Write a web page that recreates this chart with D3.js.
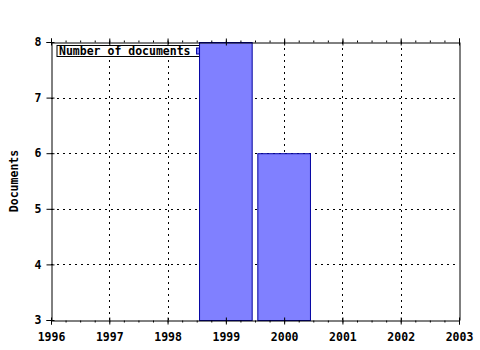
<!DOCTYPE html>
<html>
<head>
<meta charset="utf-8">
<script src="https://cdn.jsdelivr.net/npm/d3@7"></script>
<style>
  body { margin: 0; background: #fff; }
  text { font-family: "DejaVu Sans Mono", monospace; font-weight: bold; font-size: 11.5px; }
</style>
</head>
<body>
<div id="chart"></div>
<script>
const years = [1999, 2000];
const documents = [8, 6];
const xTicks = [1996, 1997, 1998, 1999, 2000, 2001, 2002, 2003];
const yTicks = [3, 4, 5, 6, 7, 8];
const seriesName = "Number of documents";

const svgWidth = 480, svgHeight = 350;
const margin = { top: 42, right: 21, bottom: 30, left: 51 },
  width = svgWidth - margin.left - margin.right,
  height = svgHeight - margin.top - margin.bottom;

const svg = d3.select("#chart").append("svg")
    .attr("width", svgWidth)
    .attr("height", svgHeight)
  .append("g")
    .attr("transform", "translate(" + margin.left + "," + margin.top + ")");

const x = d3.scaleLinear().domain([1996, 2003]).range([0, width]);
const y = d3.scaleLinear().domain([3, 8]).range([height, 0]);

// grid
svg.selectAll(".vgrid").data(xTicks.slice(1, -1)).enter().append("line")
    .attr("x1", d => Math.round(x(d)) + 0.5).attr("x2", d => Math.round(x(d)) + 0.5)
    .attr("y1", 0).attr("y2", height)
    .attr("stroke", "#000").attr("stroke-dasharray", "2,4");
svg.selectAll(".hgrid").data(yTicks.slice(1, -1)).enter().append("line")
    .attr("y1", d => Math.round(y(d)) + 0.5).attr("y2", d => Math.round(y(d)) + 0.5)
    .attr("x1", 0).attr("x2", width)
    .attr("stroke", "#000").attr("stroke-dasharray", "2,4");

// legend (drawn under the bars)
const legend = svg.append("g").attr("transform", "translate(6,3.5)");
const legText = legend.append("text").attr("x", 2).attr("y", 9).text(seriesName);
const tw = legText.node().getComputedTextLength();
legend.insert("rect", "text").attr("x", 0).attr("y", 0).attr("width", tw + 20).attr("height", 11)
    .attr("fill", "#fff").attr("stroke", "#000");
legend.append("rect").attr("x", tw + 8).attr("y", 2.5).attr("width", 8).attr("height", 6)
    .attr("fill", "#8080ff").attr("stroke", "#0000a0");

// bars
const barW = 0.92;
svg.selectAll(".bar").data(years).enter().append("rect")
    .attr("x", (d) => x(d - barW / 2) + 0.5)
    .attr("width", x(1996 + barW) - x(1996) - 1)
    .attr("y", (d, i) => y(documents[i]) + 0.5)
    .attr("height", (d, i) => height - y(documents[i]))
    .attr("fill", "#8080ff").attr("stroke", "#0000a0");

// frame axes
const minorX = d3.range(1996, 2003.001, 0.25);

svg.append("g").attr("transform", "translate(0," + (height + 0.5) + ")")
    .call(d3.axisBottom(x).tickValues(minorX).tickSize(2).tickFormat(""))
    .call(g => g.select(".domain").remove());
svg.append("g").attr("transform", "translate(0," + (height + 0.5) + ")")
    .call(d3.axisBottom(x).tickValues(xTicks).tickSize(4).tickPadding(8).tickFormat(d3.format("d")))
    .call(g => g.selectAll(".tick line").attr("y1", -3))
    .call(g => g.selectAll("text").attr("fill", "#000"));

svg.append("g").attr("transform", "translate(0,0.5)")
    .call(d3.axisTop(x).tickValues(minorX).tickSize(2).tickFormat(""))
    .call(g => g.select(".domain").remove());
svg.append("g").attr("transform", "translate(0,0.5)")
    .call(d3.axisTop(x).tickValues(xTicks).tickSize(4).tickFormat(""))
    .call(g => g.selectAll(".tick line").attr("y1", 3));

svg.append("g").attr("transform", "translate(0.5,0)")
    .call(d3.axisLeft(y).tickValues(yTicks).tickSize(5).tickPadding(5).tickFormat(d3.format("d")))
    .call(g => g.selectAll(".tick line").attr("x1", 3))
    .call(g => g.selectAll("text").attr("fill", "#000"));

svg.append("g").attr("transform", "translate(" + (width + 0.5) + ",0)")
    .call(d3.axisRight(y).tickValues(yTicks).tickSize(0).tickFormat(""));

svg.selectAll(".domain").attr("stroke", "#000");

// y label
svg.append("text")
    .attr("transform", "translate(" + (-33) + "," + (height / 2) + ") rotate(-90)")
    .attr("text-anchor", "middle")
    .text("Documents");
</script>
</body>
</html>
